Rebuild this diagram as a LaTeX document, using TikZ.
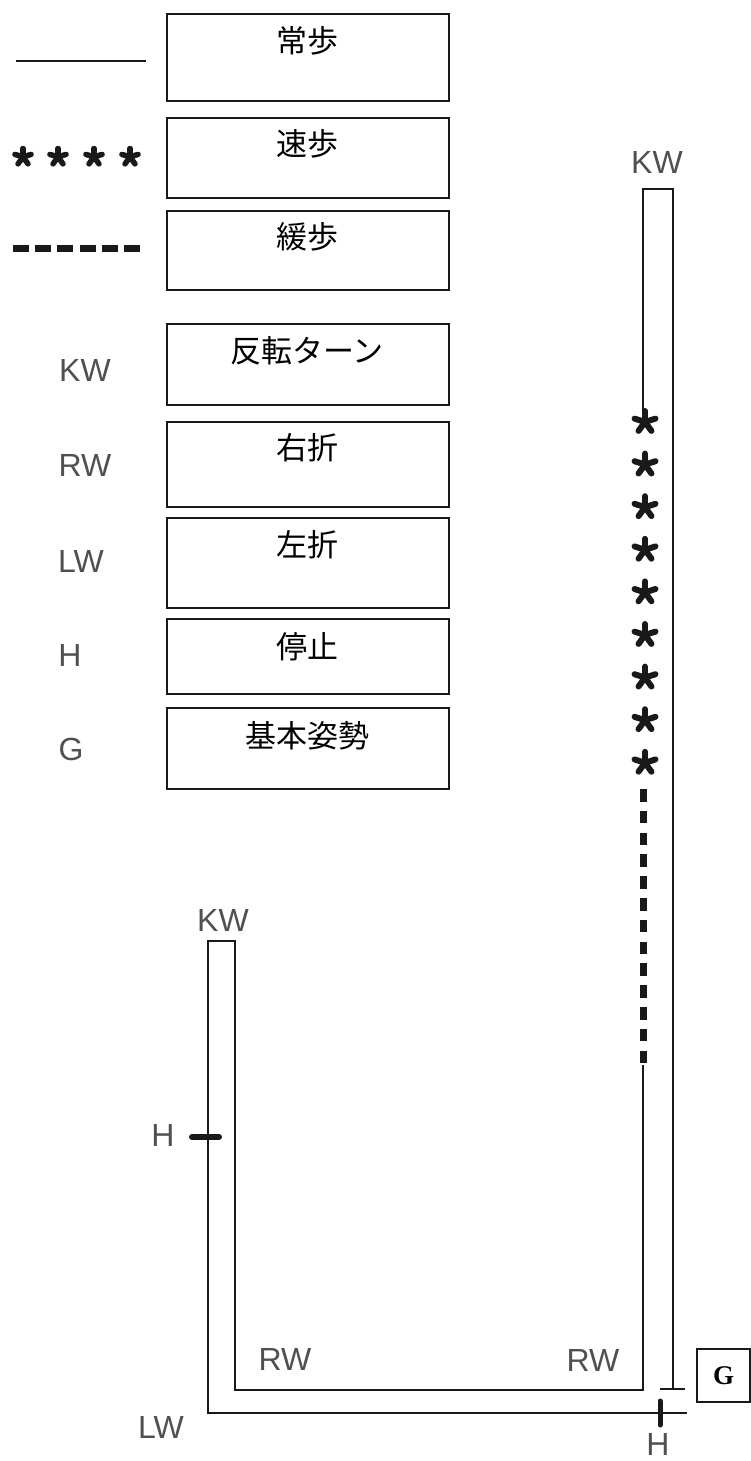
\documentclass[tikz,border=0pt]{standalone}
\usepackage{fontspec}
\setmainfont{Liberation Serif}
\newfontfamily\cjkfont{Noto Sans CJK JP}
\newfontfamily\labfont{Liberation Sans}
\definecolor{labgray}{RGB}{80,80,80}
\definecolor{ink}{RGB}{25,25,25}
\tikzset{
  legbox/.style={draw=ink, line width=1.8pt, inner sep=0pt, anchor=north west, minimum width=282pt},
  cjktext/.style={font=\cjkfont\fontsize{31}{31}\selectfont, inner sep=0pt},
  glabel/.style={font=\labfont\fontsize{32}{32}\selectfont, text=labgray, inner sep=0pt},
  walk/.style={draw=ink, line width=1.6pt},
  slowwalk/.style={draw=ink, line width=7pt, dash pattern=on 12.5pt off 9.3pt},
  legslow/.style={draw=ink, line width=7pt, dash pattern=on 16pt off 6.2pt},
  haltmark/.style={draw=ink, line width=6pt, line cap=round},
  pics/astar/.style args={#1/#2}{code={
    \foreach \a in {90,18,162,-54,234}
      \draw[ink, line width=#2pt, line cap=round] (0pt,0pt) -- (\a:#1pt);
  }},
}
\begin{document}
\begin{tikzpicture}[x=1pt, y=-1pt]
\useasboundingbox (0,0) rectangle (751,1461);

% ---------- legend ----------
\coordinate (ls1) at (16,61);  \coordinate (ls2) at (146,61);
\draw[walk, line width=2pt] (ls1) -- (ls2);
\foreach \x in {23,58,94,130} \pic at (\x,157) {astar=8.5/5.5};
\coordinate (ld1) at (13,248); \coordinate (ld2) at (140,248);
\draw[legslow] (ld1) -- (ld2);

\node[glabel] (lKW) at (85,370) {KW};
\node[glabel] (lRW) at (85,465) {RW};
\node[glabel] (lLW) at (81,561) {LW};
\node[glabel] (lH)  at (70,655) {H};
\node[glabel] (lG)  at (71,749) {G};

\node[legbox, minimum height=87pt] (b1) at (166,13)  {};
\node[legbox, minimum height=80pt] (b2) at (166,117) {};
\node[legbox, minimum height=79pt] (b3) at (166,210) {};
\node[legbox, minimum height=81pt] (b4) at (166,323) {};
\node[legbox, minimum height=85pt] (b5) at (166,421) {};
\node[legbox, minimum height=90pt] (b6) at (166,517) {};
\node[legbox, minimum height=75pt] (b7) at (166,618) {};
\node[legbox, minimum height=81pt] (b8) at (166,707) {};

\node[cjktext] (t1) at (307,41)  {常歩};
\node[cjktext] (t2) at (307,144) {速歩};
\node[cjktext] (t3) at (307,237) {緩歩};
\node[cjktext] (t4) at (307,351) {反転ターン};
\node[cjktext] (t5) at (307,448) {右折};
\node[cjktext] (t6) at (307,545) {左折};
\node[cjktext] (t7) at (307,647) {停止};
\node[cjktext] (t8) at (307,736) {基本姿勢};

% ---------- course ----------
\coordinate (rTopL) at (643,189);
\coordinate (rTopR) at (673,189);
\coordinate (rSolidEnd) at (643,411);
\coordinate (rEnd) at (673,1389);
\coordinate (tbarL) at (660,1389);
\coordinate (tbarR) at (685,1389);
\coordinate (slowTop) at (643,789);
\coordinate (slowBot) at (643,1065);
\coordinate (rwR) at (643,1390);
\coordinate (rwL) at (235,1390);
\coordinate (kwLR) at (235,941);
\coordinate (kwLL) at (208,941);
\coordinate (lwC) at (208,1413);
\coordinate (start) at (687,1413);

\draw[walk] (rSolidEnd) -- (rTopL) -- (rTopR) -- (rEnd);
\draw[walk] (tbarL) -- (tbarR);
\foreach \y in {422,464.6,507.2,549.8,592.4,635,677.6,720.2,762.8}
  \pic at (645,\y) {astar=11/6};
\draw[slowwalk] (slowTop) -- (slowBot);
\draw[walk] (slowBot) -- (rwR) -- (rwL) -- (kwLR) -- (kwLL) -- (lwC) -- (start);

\coordinate (h1a) at (192,1137); \coordinate (h1b) at (219,1137);
\draw[haltmark] (h1a) -- (h1b);
\coordinate (h2a) at (660,1401); \coordinate (h2b) at (660,1425);
\draw[haltmark, line width=5pt] (h2a) -- (h2b);

\node[glabel] (kwR) at (657,162) {KW};
\node[glabel] (kwL) at (223,920) {KW};
\node[glabel] (hL)  at (163,1135) {H};
\node[glabel] (rw1) at (285,1359) {RW};
\node[glabel] (rw2) at (593,1360) {RW};
\node[glabel] (lw)  at (161,1427) {LW};
\node[glabel] (hB)  at (658,1444) {H};

\node[draw=ink, line width=1.3pt, minimum width=53pt, minimum height=53pt, inner sep=0pt,
      font=\bfseries\fontsize{27}{27}\selectfont] (gbox) at (723.5,1375.5) {G};
\end{tikzpicture}
\end{document}
